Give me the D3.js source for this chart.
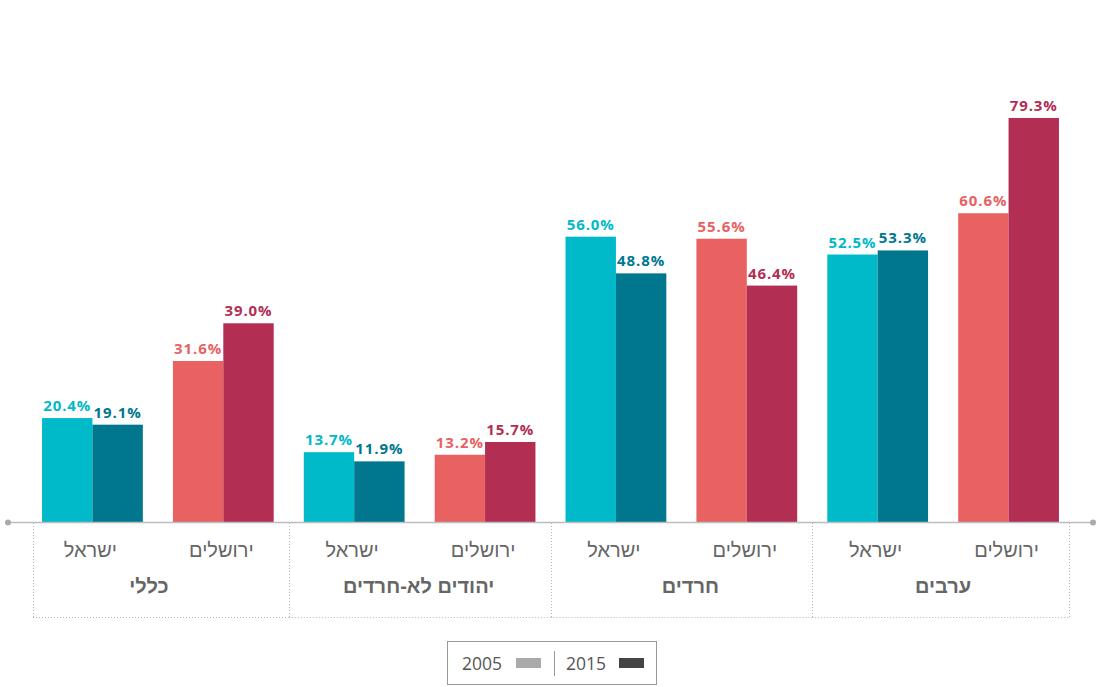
<!DOCTYPE html>
<html><head><meta charset="utf-8">
<script src="https://cdn.jsdelivr.net/npm/d3@7"></script>
<style>
body{margin:0;background:#fff;}
svg{display:block;font-family:"Open Sans",sans-serif;}
</style></head>
<body><svg id="chart" width="1099" height="687"></svg>
<script>
const groups = ["כללי", "יהודים לא-חרדים", "חרדים", "ערבים"];
const places = ["ישראל", "ירושלים"];
const years = ["2005", "2015"];
const israel2005 = [20.4, 13.7, 56.0, 52.5];
const israel2015 = [19.1, 11.9, 48.8, 53.3];
const jerusalem2005 = [31.6, 13.2, 55.6, 60.6];
const jerusalem2015 = [39.0, 15.7, 46.4, 79.3];

const colors = {
  "ישראל": ["#00b9c9", "#00778f"],
  "ירושלים": ["#e86262", "#b32e53"]
};
const legendColors = ["#aaaaaa", "#444444"];
const groupLabelShift = [-9, -1, 9, 0];
const hebFont = "'Liberation Sans', Arial, sans-serif";

const svg = d3.select("#chart");
const base = 522;
const y = d3.scaleLinear().domain([0, 100]).range([base, 12.5]);

const subKeys = [];
groups.forEach((g, gi) => places.forEach(p => subKeys.push(gi + "|" + p)));
const x0 = d3.scaleBand().domain(subKeys).range([27, 1074]);
const x1 = d3.scaleBand().domain(years).range([x0.bandwidth()*0.115, x0.bandwidth()*0.885]);
const gx = d3.scaleBand().domain(groups).range([27, 1074]);

const data = [];
groups.forEach((g, gi) => {
  data.push({g: gi, p: "ישראל", year: "2005", v: israel2005[gi]});
  data.push({g: gi, p: "ישראל", year: "2015", v: israel2015[gi]});
  data.push({g: gi, p: "ירושלים", year: "2005", v: jerusalem2005[gi]});
  data.push({g: gi, p: "ירושלים", year: "2015", v: jerusalem2015[gi]});
});

// bars
svg.append("g").selectAll("rect").data(data).join("rect")
  .attr("x", d => x0(d.g + "|" + d.p) + x1(d.year))
  .attr("y", d => y(d.v))
  .attr("width", x1.bandwidth())
  .attr("height", d => base - y(d.v))
  .attr("fill", d => colors[d.p][years.indexOf(d.year)]);

// value labels
svg.append("g").selectAll("text").data(data).join("text")
  .attr("x", d => x0(d.g + "|" + d.p) + x1(d.year) + x1.bandwidth()/2)
  .attr("y", d => y(d.v) - 7)
  .attr("text-anchor", "middle")
  .attr("font-size", 15)
  .attr("font-weight", 700)
  .attr("letter-spacing", 0.9)
  .attr("fill", d => colors[d.p][years.indexOf(d.year)])
  .text(d => d.v.toFixed(1) + "%");

// group boxes (dotted)
const boxTop = 523, boxBottom = 617;
const bx = groups.map((g, i) => {
  let l = gx(g), r = gx(g) + gx.bandwidth();
  if (i === 0) l += 6;
  if (i === groups.length - 1) r -= 5;
  return [l, r];
});
const boxes = svg.append("g").attr("stroke", "#b5b5b5").attr("stroke-width", 1).attr("stroke-dasharray", "1,2").attr("fill", "none");
bx.forEach(([l, r], i) => {
  boxes.append("line").attr("x1", l).attr("x2", r).attr("y1", boxBottom + 0.5).attr("y2", boxBottom + 0.5);
  boxes.append("line").attr("x1", Math.round(l) + 0.5).attr("x2", Math.round(l) + 0.5).attr("y1", boxTop).attr("y2", boxBottom);
  if (i === groups.length - 1) boxes.append("line").attr("x1", Math.round(r) + 0.5).attr("x2", Math.round(r) + 0.5).attr("y1", boxTop).attr("y2", boxBottom);
});

// axis line with dots
svg.append("line").attr("x1", 8).attr("x2", 1092).attr("y1", base + 0.5).attr("y2", base + 0.5)
  .attr("stroke", "#bdbdbd").attr("stroke-width", 1.5);
svg.append("circle").attr("cx", 8).attr("cy", base + 0.5).attr("r", 3).attr("fill", "#aaa");
svg.append("circle").attr("cx", 1093).attr("cy", base + 0.5).attr("r", 3).attr("fill", "#aaa");

// place labels
svg.append("g").selectAll("text").data(subKeys).join("text")
  .attr("x", d => x0(d) + x0.bandwidth()/2 - 2)
  .attr("y", 557)
  .attr("text-anchor", "middle")
  .attr("font-family", hebFont)
  .attr("font-size", 20)
  .attr("fill", "#666")
  .text(d => d.split("|")[1]);

// group labels
svg.append("g").selectAll("text").data(groups).join("text")
  .attr("x", (d, i) => gx(d) + gx.bandwidth()/2 + groupLabelShift[i])
  .attr("y", 593)
  .attr("text-anchor", "middle")
  .attr("font-family", hebFont)
  .attr("font-size", 20)
  .attr("font-weight", 700)
  .attr("fill", "#666")
  .text(d => d);

// legend
const lg = svg.append("g");
lg.append("rect").attr("x", 447.5).attr("y", 641.5).attr("width", 209).attr("height", 43)
  .attr("fill", "#fff").attr("stroke", "#999").attr("stroke-width", 1);
lg.append("line").attr("x1", 554.5).attr("x2", 554.5).attr("y1", 651).attr("y2", 676).attr("stroke", "#999");
const legX = [[482, 516], [586, 619]];
years.forEach((yr, i) => {
  lg.append("text").attr("x", legX[i][0]).attr("y", 670).attr("text-anchor", "middle")
    .attr("font-size", 17.5).attr("fill", "#555").text(yr);
  lg.append("rect").attr("x", legX[i][1]).attr("y", 658).attr("width", 25).attr("height", 10)
    .attr("fill", legendColors[i]);
});
</script>
</body></html>
